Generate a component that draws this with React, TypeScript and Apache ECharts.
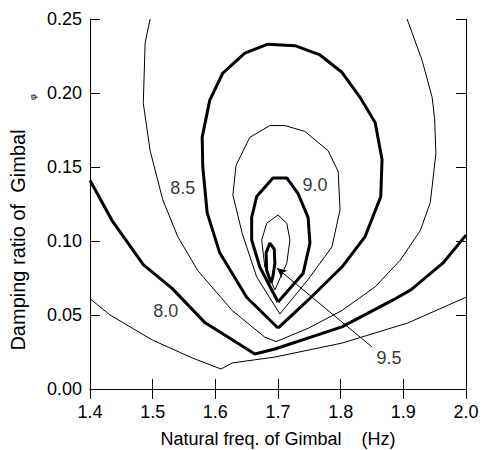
import React, { useEffect, useRef } from "react";
import * as echarts from "echarts";

const xTicks = { min: 1.4, max: 2.0, interval: 0.1 };
const yTicks = { min: 0, max: 0.25, interval: 0.05 };

const thin80: [number, number][] = [
  [1.4, 0.061], [1.432, 0.05], [1.5, 0.033], [1.563, 0.021], [1.609, 0.0135],
  [1.627, 0.0176], [1.695, 0.0216], [1.802, 0.031], [1.907, 0.0446], [2.0, 0.062],
];
const thick80: [number, number][] = [
  [1.4, 0.141], [1.435, 0.114], [1.485, 0.084], [1.531, 0.068], [1.583, 0.045],
  [1.615, 0.0365], [1.663, 0.0236], [1.695, 0.027], [1.802, 0.042], [1.883, 0.06],
  [1.912, 0.067], [1.963, 0.085], [2.0, 0.104],
];
const thin85: [number, number][] = [
  [1.496, 0.25], [1.488, 0.234], [1.485, 0.193], [1.496, 0.161], [1.516, 0.128],
  [1.54, 0.103], [1.572, 0.08], [1.627, 0.053], [1.679, 0.035], [1.697, 0.032],
  [1.748, 0.041], [1.802, 0.053], [1.855, 0.069], [1.895, 0.087], [1.927, 0.107],
  [1.943, 0.126], [1.952, 0.159], [1.95, 0.182], [1.946, 0.197], [1.93, 0.222],
  [1.906, 0.25],
];
const thick85: [number, number][] = [
  [1.7, 0.0412], [1.65, 0.062], [1.607, 0.092], [1.587, 0.119], [1.58, 0.15],
  [1.579, 0.17], [1.591, 0.195], [1.612, 0.2135], [1.647, 0.227], [1.684, 0.233],
  [1.727, 0.232], [1.767, 0.2257], [1.802, 0.214], [1.831, 0.197], [1.855, 0.18],
  [1.866, 0.155], [1.864, 0.13], [1.839, 0.103], [1.802, 0.0824], [1.748, 0.06],
  [1.7, 0.0412],
];
const thin90: [number, number][] = [
  [1.703, 0.0507], [1.666, 0.0757], [1.643, 0.105], [1.628, 0.131], [1.633, 0.151],
  [1.655, 0.17], [1.687, 0.178], [1.711, 0.178], [1.743, 0.174], [1.78, 0.161],
  [1.796, 0.147], [1.799, 0.121], [1.786, 0.096], [1.748, 0.074], [1.703, 0.0507],
];
const thick90: [number, number][] = [
  [1.7, 0.0588], [1.671, 0.0824], [1.658, 0.1007], [1.658, 0.116], [1.666, 0.13],
  [1.692, 0.1426], [1.714, 0.1426], [1.732, 0.132], [1.748, 0.116], [1.751, 0.0986],
  [1.74, 0.078], [1.7, 0.0588],
];
const thin95: [number, number][] = [
  [1.695, 0.0669], [1.679, 0.0824], [1.674, 0.1007], [1.682, 0.112], [1.7, 0.1176],
  [1.714, 0.112], [1.719, 0.1007], [1.714, 0.085], [1.695, 0.0669],
];
const thick95: [number, number][] = [
  [1.689, 0.0716], [1.682, 0.08], [1.681, 0.092], [1.687, 0.0986], [1.694, 0.0946],
  [1.695, 0.085], [1.692, 0.0764], [1.689, 0.0716],
];

const contourLabels = [
  { name: "8.0", value: [1.521, 0.0527] },
  { name: "8.5", value: [1.548, 0.136] },
  { name: "9.0", value: [1.759, 0.138] },
  { name: "9.5", value: [1.877, 0.021] },
];
const arrowFrom: [number, number] = [1.85, 0.0284];
const arrowTo: [number, number] = [1.698, 0.0818];

const FONT = "'Liberation Sans', Arial, sans-serif";

export default function App() {
  const ref = useRef<HTMLDivElement>(null);
  useEffect(() => {
    if (!ref.current) return;
    const chart = echarts.init(ref.current, null, { renderer: "svg" });
    const axisCommon = {
      type: "value" as const,
      axisLine: { show: true, lineStyle: { color: "#000", width: 1 } },
      axisTick: { show: true, inside: true, length: 10, lineStyle: { color: "#000", width: 1 } },
      splitLine: { show: false },
    };
    const lineS = (data: [number, number][], w: number) => ({
      type: "line",
      data,
      showSymbol: false,
      symbol: "none",
      smooth: false,
      lineStyle: { color: "#000", width: w },
      silent: true,
    });
    chart.setOption({
      animation: false,
      backgroundColor: "#fff",
      textStyle: { fontFamily: FONT },
      grid: {
        left: 90,
        top: 19,
        right: 17,
        bottom: 61,
        containLabel: false,
        outerBoundsMode: "none",
      },
      xAxis: [
        {
          ...axisCommon,
          position: "bottom",
          ...xTicks,
          axisLabel: {
            color: "#000",
            fontSize: 18,
            fontFamily: FONT,
            margin: 14,
            formatter: (v: number) => v.toFixed(1),
          },
          name: "Natural freq. of Gimbal    (Hz)",
          nameLocation: "middle",
          nameGap: 41,
          nameTextStyle: { color: "#000", fontSize: 18, fontFamily: FONT },
        },
        {
          ...axisCommon,
          position: "top",
          ...xTicks,
          axisLabel: { show: false },
        },
      ],
      yAxis: [
        {
          ...axisCommon,
          position: "left",
          ...yTicks,
          axisLabel: {
            color: "#000",
            fontSize: 18,
            fontFamily: FONT,
            margin: 8,
            formatter: (v: number) => v.toFixed(2),
          },
        },
        {
          ...axisCommon,
          position: "right",
          ...yTicks,
          axisLabel: { show: false },
        },
      ],
      graphic: [
        {
          type: "text",
          x: 18,
          y: 240,
          rotation: Math.PI / 2,
          style: {
            text: "Damping ratio of  Gimbal",
            font: `20px ${FONT}`,
            fill: "#000",
            textAlign: "center",
            textVerticalAlign: "middle",
          },
        },
        {
          type: "text",
          x: 33,
          y: 97,
          rotation: Math.PI / 2,
          style: {
            text: "φ",
            font: `9px ${FONT}`,
            fill: "#000",
            textAlign: "center",
            textVerticalAlign: "middle",
          },
        },
      ],
      series: [
        lineS(thin80, 1),
        lineS(thick80, 3),
        lineS(thin85, 1),
        lineS(thick85, 3),
        lineS(thin90, 1),
        lineS(thick90, 3),
        lineS(thin95, 1),
        lineS(thick95, 3),
        {
          type: "scatter",
          data: contourLabels,
          symbolSize: 0,
          silent: true,
          label: {
            show: true,
            position: "inside",
            formatter: "{b}",
            color: "#000",
            textBorderWidth: 0,
            fontSize: 18,
            fontFamily: FONT,
          },
          markLine: {
            silent: true,
            symbol: ["none", "arrow"],
            symbolSize: [7, 10],
            label: { show: false },
            lineStyle: { color: "#000", width: 1, type: "solid" },
            data: [[{ coord: arrowFrom }, { coord: arrowTo }]],
          },
        },
      ],
    });
    return () => chart.dispose();
  }, []);
  return (
    <div
      ref={ref}
      style={{ position: "absolute", left: 0, top: 0, width: 483, height: 450 }}
    />
  );
}
